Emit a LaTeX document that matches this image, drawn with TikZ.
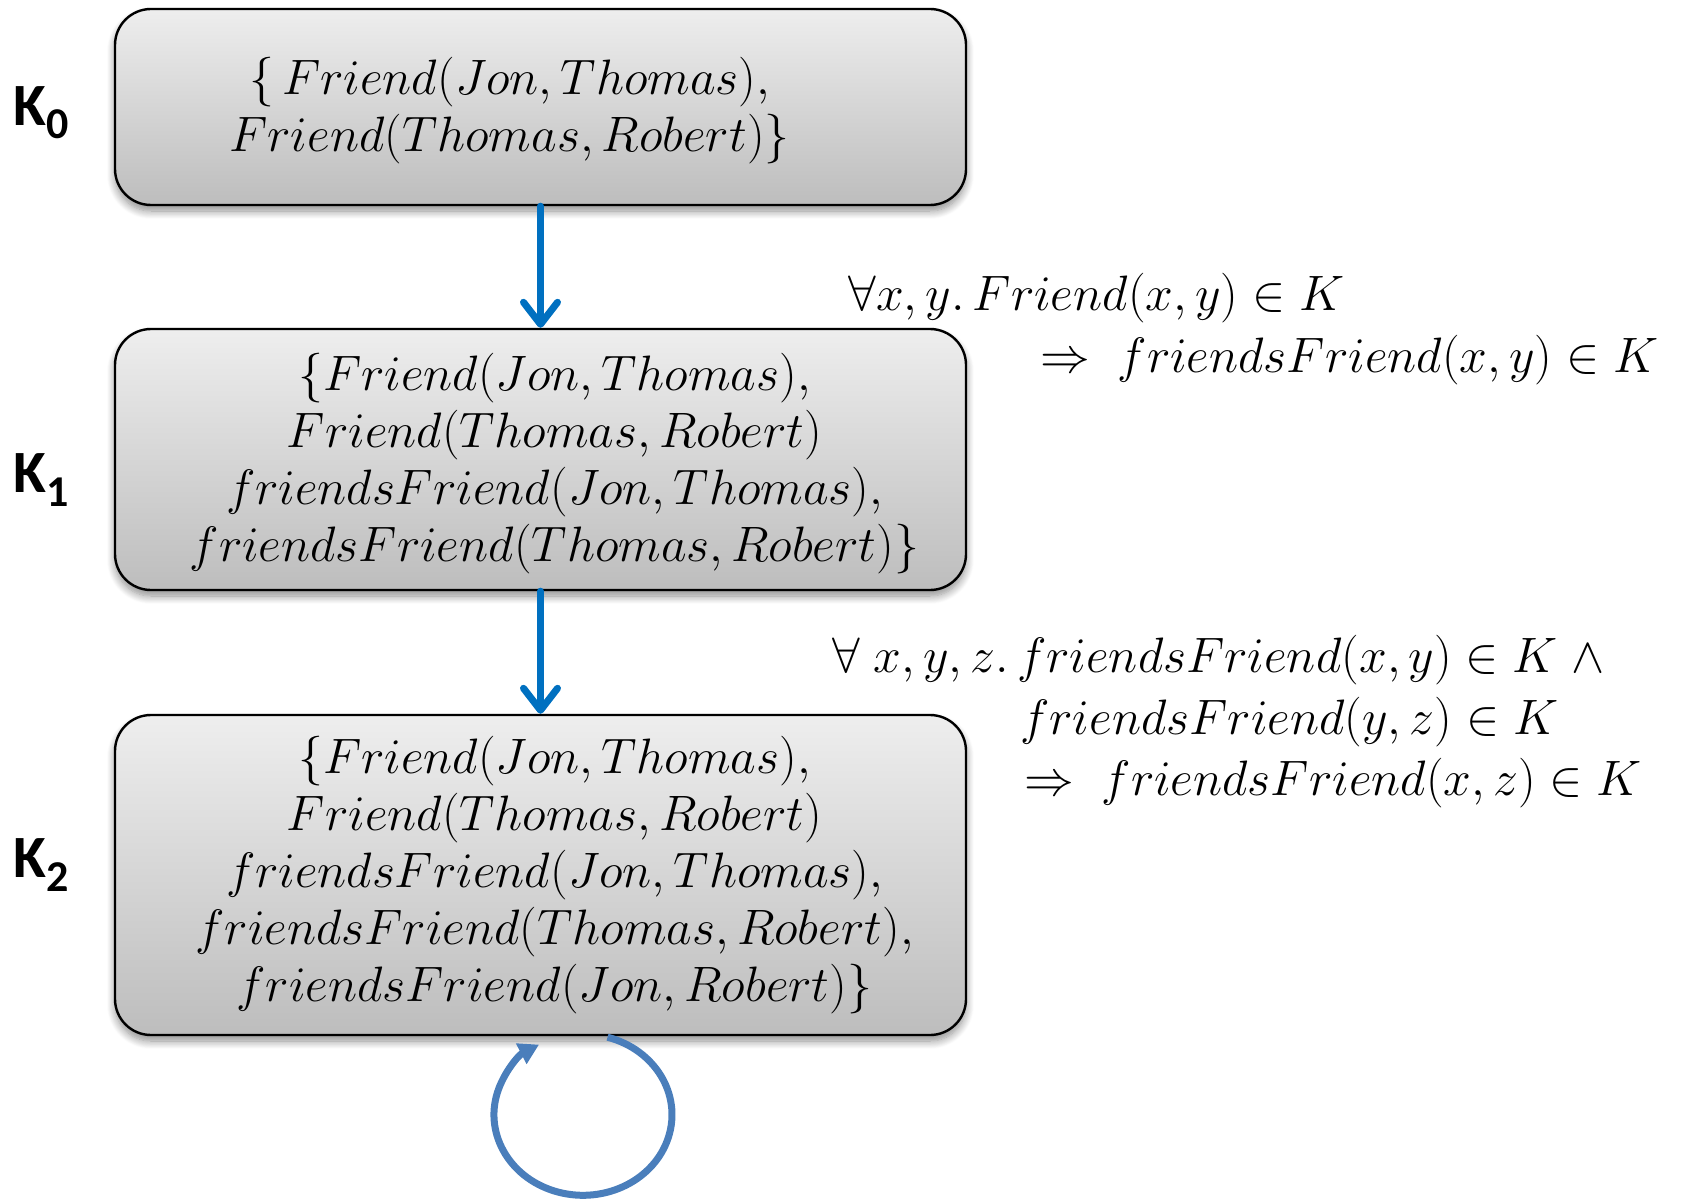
\documentclass[tikz,border=0pt]{standalone}
\usepackage{fontspec}
\setsansfont{Carlito}
\usetikzlibrary{arrows.meta,shadows.blur,calc}

\definecolor{flowblue}{HTML}{0070C0}
\definecolor{loopblue}{HTML}{4A7EBB}
\definecolor{boxtop}{HTML}{EEEEEE}
\definecolor{boxbot}{HTML}{BDBDBD}

\tikzset{
  kbox/.style={draw=black, line width=1.2pt, rounded corners=18pt,
    top color=boxtop, bottom color=boxbot,
    minimum width=425.5pt, inner sep=0pt,
    blur shadow={shadow xshift=0pt, shadow yshift=-3pt, shadow blur steps=10, shadow opacity=45, shadow blur radius=4pt}},
  ktext/.style={align=center, inner sep=0pt, font=\fontsize{23.5}{28.5}\selectfont},
  klabel/.style={font=\sffamily\bfseries\fontsize{30}{30}\selectfont, inner sep=0pt},
  rule/.style={anchor=base west, inner sep=0pt, font=\fontsize{24.5}{28.5}\selectfont},
  flow/.style={draw=flowblue, line width=3.5pt, line cap=round,
    -{Straight Barb[length=11pt, width=17pt, line cap=round, line join=round]}},
  selfloop/.style={draw=loopblue, line width=3.5pt,
    -{Triangle[length=10pt, width=11pt]}}
}

\newcommand{\ksub}[1]{K\raisebox{-0.45ex}{\fontsize{22}{22}\selectfont #1}}

\begin{document}
\begin{tikzpicture}[x=0.5pt, y=-0.5pt]
  \useasboundingbox (0,0) rectangle (1684,1198);

  % knowledge states
  \node[kbox, minimum height=98pt] (k0) at (540.5,107) {};
  \node[kbox, minimum height=130.5pt] (k1) at (540.5,459.5) {};
  \node[kbox, minimum height=160pt] (k2) at (540.5,875) {};

  \node[ktext] (k0text) at ($(k0.center)+(-31,4)$)
    {$\{\,Friend(Jon,Thomas),$\\ $Friend(Thomas,Robert)\}$};
  \node[ktext] (k1text) at ($(k1.center)+(14,4)$)
    {$\{Friend(Jon,Thomas),$\\ $Friend(Thomas,Robert)$\\
     $friendsFriend(Jon,Thomas),$\\ $friendsFriend(Thomas,Robert)\}$};
  \node[ktext] (k2text) at ($(k2.center)+(14,0)$)
    {$\{Friend(Jon,Thomas),$\\ $Friend(Thomas,Robert)$\\
     $friendsFriend(Jon,Thomas),$\\ $friendsFriend(Thomas,Robert),$\\
     $friendsFriend(Jon,Robert)\}$};

  % state labels
  \node[klabel] (l0) at (41,113) {\ksub{0}};
  \node[klabel] (l1) at (41,480) {\ksub{1}};
  \node[klabel] (l2) at (41,865) {\ksub{2}};

  % derivation steps
  \draw[flow] (k0.south) -- (k1.north);
  \draw[flow] (k1.south) -- (k2.north);

  % fixpoint reached
  \coordinate (loopstart) at ($(k2.south)+(67,1)$);
  \draw[selfloop] (loopstart) arc[start angle=74, end angle=-240.4, x radius=44.5pt, y radius=40.3pt];

  % inference rules
  \node[rule] (r1a) at (848,310) {$\forall x,y.\,Friend(x,y)\in K$};
  \node[rule] (r1b) at (1040,372) {$\Rightarrow\; friendsFriend(x,y)\in K$};
  \node[rule] (r2a) at (832,672) {$\forall\; x,y,z.\,friendsFriend(x,y)\in K\;\wedge$};
  \node[rule] (r2b) at (1020,734) {$friendsFriend(y,z)\in K$};
  \node[rule] (r2c) at (1024,795) {$\Rightarrow\; friendsFriend(x,z)\in K$};
\end{tikzpicture}
\end{document}
